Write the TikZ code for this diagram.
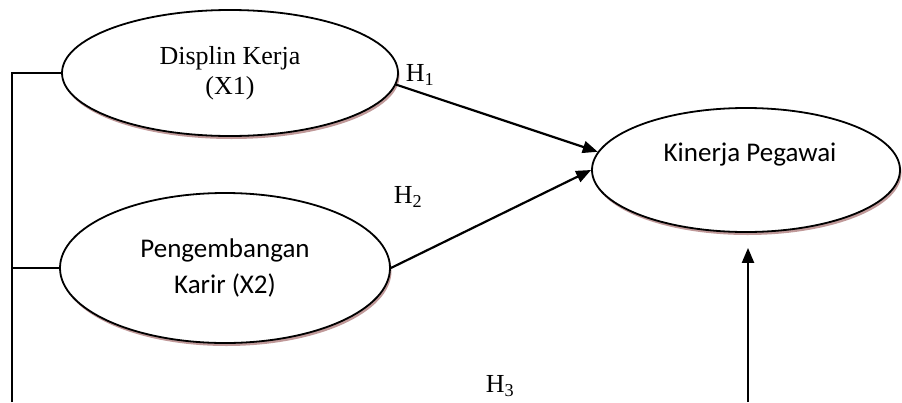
\documentclass[tikz,border=0pt]{standalone}
\usepackage{fontspec}
\setmainfont{Liberation Serif}
\newfontfamily\calib{Carlito}
\usetikzlibrary{shapes.geometric,arrows.meta,shadows}
\definecolor{shadowc}{RGB}{176,128,128}
\tikzset{
  var/.style={ellipse, draw=black, line width=1.8pt, fill=white, inner sep=0pt, align=center,
    drop shadow={shadow xshift=1.5pt, shadow yshift=-3pt, fill=shadowc, opacity=0.8}},
  arr/.style={line width=2.2pt, -{Triangle[length=15pt,width=12pt]}},
  lnk/.style={line width=1.6pt},
  hyp/.style={font=\fontsize{26}{30}\selectfont, inner sep=0pt}
}
\begin{document}
\begin{tikzpicture}[x=1pt,y=-1pt]
\useasboundingbox (0,0) rectangle (902,402);
\node[var, minimum width=336pt, minimum height=126pt, font=\fontsize{26}{30}\selectfont] (e1) at (230,73) {Displin Kerja\\(X1)};
\node[var, minimum width=330pt, minimum height=150pt, font=\calib\fontsize{27}{36}\selectfont] (e2) at (225,268) {Pengembangan\\Karir (X2)};
\node[var, minimum width=308pt, minimum height=124pt] (k) at (746,170) {};
\node[font=\calib\fontsize{27}{32}\selectfont, inner sep=0pt] (kt) at (750,155) {Kinerja Pegawai};
\coordinate (lb) at (12,402);
\coordinate (hb) at (748,402);
\draw[lnk] (lb) |- (e1.west);
\draw[lnk] (e2.west) -- (e2.west -| lb);
\draw[arr] (e1.-4) -- (k.173);
\draw[arr] (e2.east) -- (k.west);
\draw[arr, shorten >=15pt] (hb) -- (hb |- k.south);
\node[hyp] (h1) at (420,75) {H\textsubscript{1}};
\node[hyp] (h2) at (408,197) {H\textsubscript{2}};
\node[hyp] (h3) at (500,386) {H\textsubscript{3}};
\end{tikzpicture}
\end{document}
